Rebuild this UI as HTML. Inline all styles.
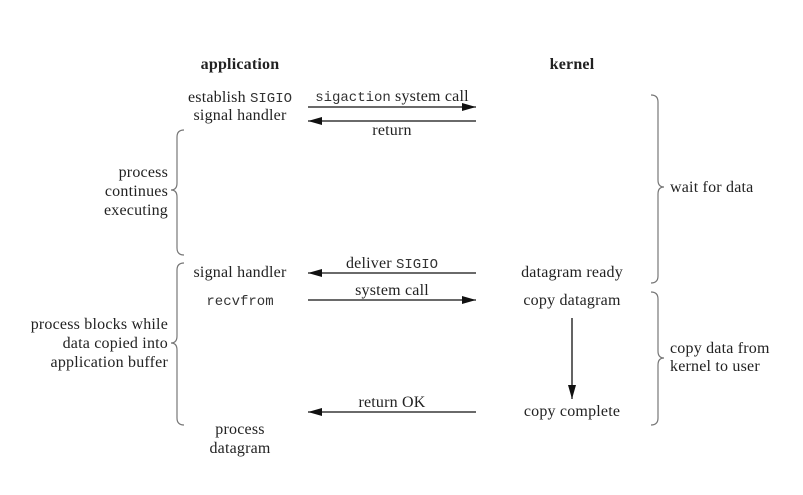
<!DOCTYPE html>
<html><head><meta charset="utf-8"><style>
body{margin:0;background:#fff}
svg{display:block}
text{font-family:"Liberation Serif",serif;font-size:16px;letter-spacing:0.2px;fill:#222}
.m{font-family:"Liberation Mono",monospace;font-size:14px;letter-spacing:0;fill:#333}
.b{font-weight:bold}
</style></head><body>
<svg width="803" height="495" viewBox="0 0 803 495">
<defs><marker id="ah" markerWidth="14" markerHeight="8" refX="14" refY="4" orient="auto" markerUnits="userSpaceOnUse"><path d="M0,0 L14,4 L0,8 Z" fill="#111"/></marker></defs>
<g text-anchor="middle">
<text x="240" y="69" class="b">application</text>
<text x="572" y="69" class="b">kernel</text>
<text x="240" y="102">establish <tspan class="m">SIGIO</tspan></text>
<text x="240" y="120">signal handler</text>
<text x="392" y="101"><tspan class="m">sigaction</tspan> system call</text>
<text x="392" y="135">return</text>
<text x="240" y="277">signal handler</text>
<text x="392" y="268">deliver <tspan class="m">SIGIO</tspan></text>
<text x="572" y="277">datagram ready</text>
<text x="240" y="305" class="m">recvfrom</text>
<text x="392" y="295">system call</text>
<text x="572" y="305">copy datagram</text>
<text x="392" y="407">return OK</text>
<text x="572" y="416">copy complete</text>
<text x="240" y="434">process</text>
<text x="240" y="453">datagram</text>
</g>
<g text-anchor="end">
<text x="168" y="177">process</text>
<text x="168" y="196">continues</text>
<text x="168" y="215">executing</text>
<text x="168" y="329">process blocks while</text>
<text x="168" y="348">data copied into</text>
<text x="168" y="367">application buffer</text>
</g>
<text x="670" y="192">wait for data</text>
<text x="670" y="353">copy data from</text>
<text x="670" y="371">kernel to user</text>
<g stroke="#111" stroke-width="1.3" fill="none">
<line x1="308" y1="107" x2="476" y2="107" marker-end="url(#ah)"/>
<line x1="476" y1="121" x2="308" y2="121" marker-end="url(#ah)"/>
<line x1="476" y1="273" x2="308" y2="273" marker-end="url(#ah)"/>
<line x1="308" y1="300" x2="476" y2="300" marker-end="url(#ah)"/>
<line x1="572" y1="318" x2="572" y2="399" marker-end="url(#ah)"/>
<line x1="476" y1="412" x2="308" y2="412" marker-end="url(#ah)"/>
</g>
<g stroke="#777" stroke-width="1.2" fill="none">
<path d="M184 130 Q177 130 177 137 L177 183 Q177 190 171 190 Q177 190 177 197 L177 248 Q177 255 184 255"/>
<path d="M184 263 Q177 263 177 270 L177 336 Q177 343 171 343 Q177 343 177 350 L177 418 Q177 425 184 425"/>
<path d="M651 95 Q658 95 658 102 L658 180 Q658 187 664 187 Q658 187 658 194 L658 276 Q658 283 651 283"/>
<path d="M651 292 Q658 292 658 299 L658 351 Q658 358 664 358 Q658 358 658 365 L658 418 Q658 425 651 425"/>
</g>
</svg>
</body></html>
